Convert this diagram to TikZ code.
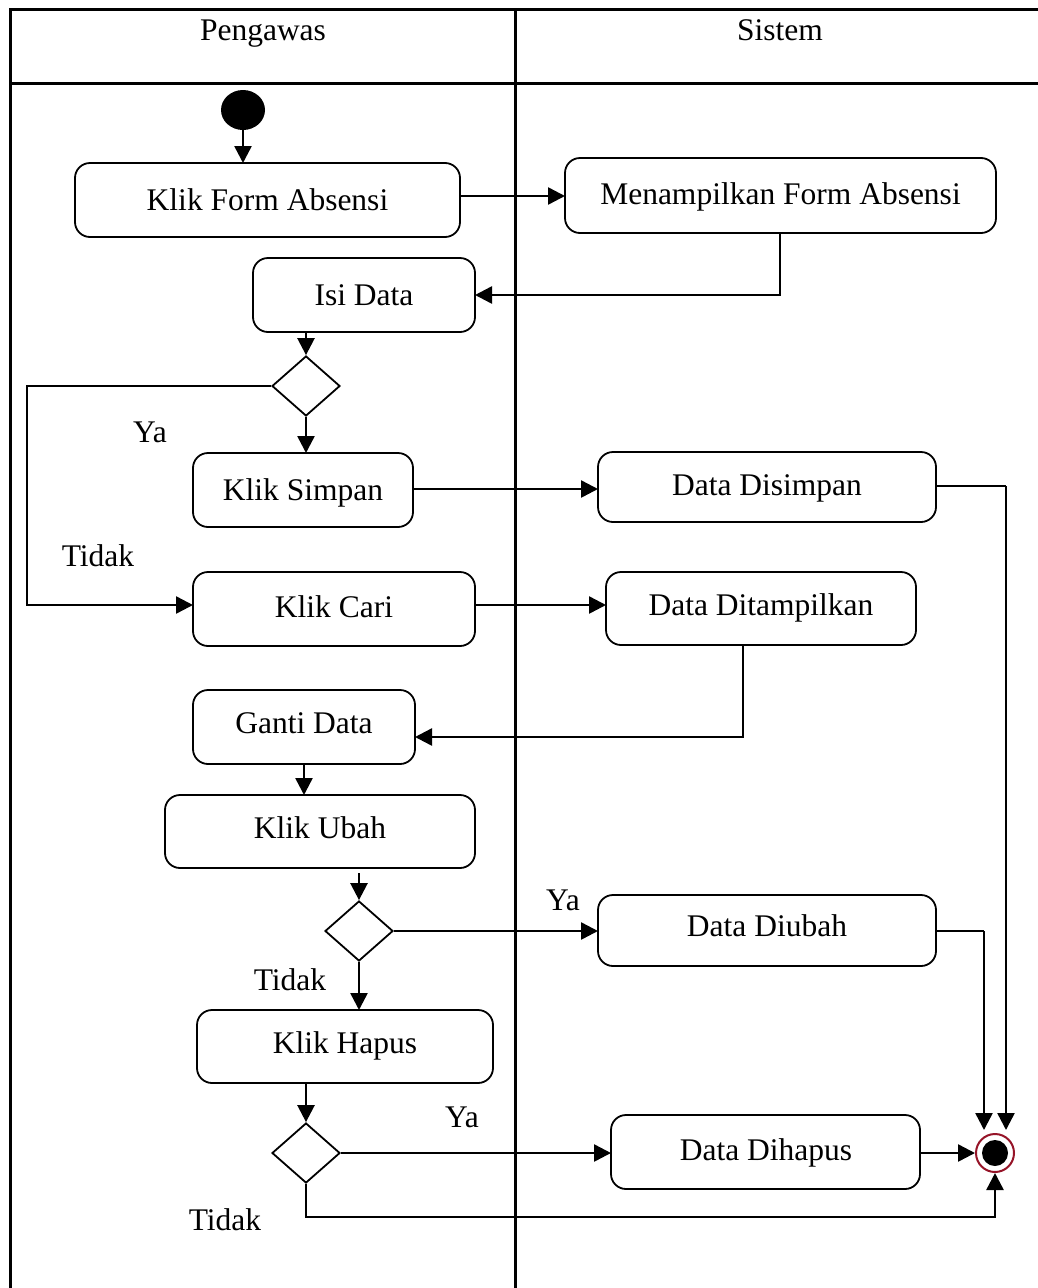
\documentclass[tikz,border=0pt]{standalone}
\usepackage{fontspec}
\setmainfont{Liberation Serif}
\usetikzlibrary{arrows.meta,shapes.geometric}
\definecolor{ringred}{RGB}{150,20,40}
\tikzset{
  act/.style={draw, line width=1.8pt, rounded corners=15pt, inner sep=0pt},
  lane/.style={line width=3pt},
  conn/.style={line width=2.5pt},
  arr/.style={conn, -{Triangle[length=17pt,width=17pt]}},
  dec/.style={draw, line width=1.8pt, diamond, minimum width=68pt, minimum height=60pt, inner sep=0pt, aspect=1.13},
  lbl/.style={font=\fontsize{31.5}{36}\selectfont, inner sep=0pt, text height=21.5pt, text depth=0pt},
}
\begin{document}
\begin{tikzpicture}[x=1pt,y=-1pt]
\useasboundingbox (0,0) rectangle (1038,1288);
% lanes
\draw[lane] (10,1288) -- (10,9) -- (1038,9);
\draw[lane] (10,83) -- (1038,83);
\draw[lane] (515,9) -- (515,1288);
\node[lbl] (h1) at (263,30) {Pengawas};
\node[lbl] (h2) at (780,30) {Sistem};
% nodes
\node[fill=black, ellipse, minimum width=44pt, minimum height=40pt, inner sep=0pt] (start) at (243,110) {};
\path[act] (75,163) rectangle (460,237);
\node[lbl] (a1) at (267.5,200) {Klik Form Absensi};
\path[act] (565,158) rectangle (996,233);
\node[lbl] (b1) at (780.5,194) {Menampilkan Form Absensi};
\path[act] (253,258) rectangle (475,332);
\node[lbl] (a2) at (364,295) {Isi Data};
\node[dec] (d1) at (306,386) {};
\path[act] (193,453) rectangle (413,527);
\node[lbl] (a3) at (303,490) {Klik Simpan};
\path[act] (598,452) rectangle (936,522);
\node[lbl] (b2) at (767,485) {Data Disimpan};
\path[act] (193,572) rectangle (475,646);
\node[lbl] (a4) at (334,607) {Klik Cari};
\path[act] (606,572) rectangle (916,645);
\node[lbl] (b3) at (761,605) {Data Ditampilkan};
\path[act] (193,690) rectangle (415,764);
\node[lbl] (a5) at (304,723) {Ganti Data};
\path[act] (165,795) rectangle (475,868);
\node[lbl] (a6) at (320,828) {Klik Ubah};
\node[dec] (d2) at (359,931) {};
\path[act] (598,895) rectangle (936,966);
\node[lbl] (b4) at (767,926) {Data Diubah};
\path[act] (197,1010) rectangle (493,1083);
\node[lbl] (a7) at (345,1043) {Klik Hapus};
\node[dec] (d3) at (306,1153) {};
\path[act] (611,1115) rectangle (920,1189);
\node[lbl] (b5) at (766,1150) {Data Dihapus};
\node[circle, draw=ringred, line width=2pt, fill=white, minimum size=38pt, inner sep=0pt] (fin) at (995,1153) {};
\fill[black] (fin.center) circle (13pt);
% coordinates
\coordinate (a1t) at (243,163);
\coordinate (a1r) at (460,196);
\coordinate (b1l) at (565,196);
\coordinate (b1b) at (780,233);
\coordinate (a2r) at (475,295);
\coordinate (a2b) at (306,332);
\coordinate (a3t) at (306,453);
\coordinate (lft) at (27,386);
\coordinate (lfb) at (27,605);
\coordinate (a4l) at (193,605);
\coordinate (a3r) at (413,489);
\coordinate (b2l) at (598,489);
\coordinate (b2r) at (936,486);
\coordinate (r1) at (1006,486);
\coordinate (fint1) at (1006,1130);
\coordinate (a4r) at (475,605);
\coordinate (b3l) at (606,605);
\coordinate (b3b) at (743,645);
\coordinate (a5r) at (415,737);
\coordinate (a5b) at (304,764);
\coordinate (a6t) at (304,795);
\coordinate (a6s) at (359,873);
\coordinate (a7t) at (359,1010);
\coordinate (b4l) at (598,931);
\coordinate (b4r) at (936,931);
\coordinate (r2) at (984,931);
\coordinate (fint2) at (984,1130);
\coordinate (a7b) at (306,1083);
\coordinate (b5l) at (611,1153);
\coordinate (b5r) at (920,1153);
\coordinate (bl) at (306,1217);
\coordinate (br) at (995,1217);
% connectors
\draw[arr] (start.south) -- (a1t);
\draw[arr] (a1r) -- (b1l);
\draw[arr] (b1b) -- (b1b |- a2r) -- (a2r);
\draw[arr] (a2b) -- (d1.north);
\draw[arr] (d1.south) -- (a3t);
\draw[arr] (d1.west) -- (lft) -- (lfb) -- (a4l);
\draw[arr] (a3r) -- (b2l);
\draw[conn] (b2r) -- (r1);
\draw[arr] (r1) -- (fint1);
\draw[arr] (a4r) -- (b3l);
\draw[arr] (b3b) -- (b3b |- a5r) -- (a5r);
\draw[arr] (a5b) -- (a6t);
\draw[arr] (a6s) -- (d2.north);
\draw[arr] (d2.south) -- (a7t);
\draw[arr] (d2.east) -- (b4l);
\draw[conn] (b4r) -- (r2);
\draw[arr] (r2) -- (fint2);
\draw[arr] (a7b) -- (d3.north);
\draw[arr] (d3.east) -- (b5l);
\draw[arr] (b5r) -- (fin.west);
\draw[arr] (d3.south) -- (bl) -- (br) -- (fin.south);
% labels
\node[lbl] (ya1) at (150,432) {Ya};
\node[lbl] (td1) at (98,556) {Tidak};
\node[lbl] (ya2) at (563,900) {Ya};
\node[lbl] (td2) at (290,980) {Tidak};
\node[lbl] (ya3) at (462,1117) {Ya};
\node[lbl] (td3) at (225,1220) {Tidak};
\end{tikzpicture}
\end{document}
